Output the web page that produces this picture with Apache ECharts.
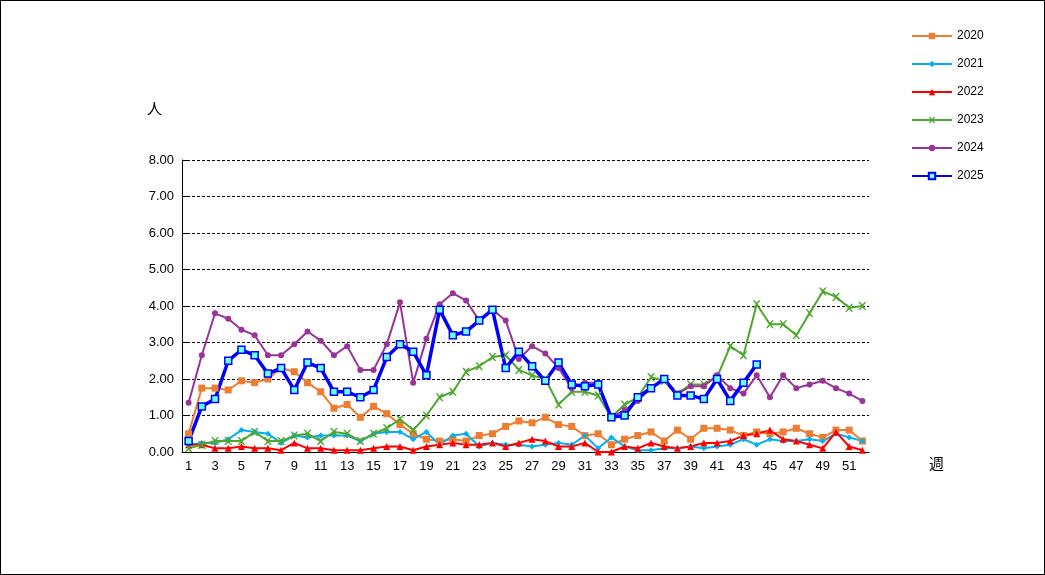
<!DOCTYPE html>
<html>
<head>
<meta charset="utf-8">
<script src="https://cdn.jsdelivr.net/npm/echarts@6/dist/echarts.min.js"></script>
<style>
  html, body { margin: 0; padding: 0; background: #fff; }
  #chart { width: 1043px; height: 573px; border: 1px solid #000; }
</style>
</head>
<body>
<div id="chart"></div>
<script>
// 週
const weeks = [];
for (let i = 1; i <= 52; i++) weeks.push(String(i));

const d2020 = [0.5, 1.75, 1.75, 1.7, 1.95, 1.9, 2.0, 2.3, 2.2, 1.9, 1.65, 1.2, 1.3, 0.95, 1.25, 1.05, 0.75, 0.5, 0.35, 0.3, 0.35, 0.3, 0.45, 0.5, 0.7, 0.85, 0.8, 0.95, 0.75, 0.7, 0.45, 0.5, 0.2, 0.35, 0.45, 0.55, 0.3, 0.6, 0.35, 0.65, 0.65, 0.6, 0.45, 0.55, 0.5, 0.55, 0.65, 0.5, 0.4, 0.6, 0.6, 0.3];
const d2021 = [0.2, 0.25, 0.25, 0.35, 0.6, 0.55, 0.5, 0.25, 0.45, 0.4, 0.45, 0.45, 0.45, 0.3, 0.5, 0.55, 0.55, 0.35, 0.55, 0.2, 0.45, 0.5, 0.15, 0.25, 0.2, 0.2, 0.15, 0.2, 0.25, 0.2, 0.45, 0.1, 0.4, 0.15, 0.05, 0.05, 0.1, 0.1, 0.15, 0.1, 0.15, 0.2, 0.35, 0.2, 0.35, 0.3, 0.3, 0.35, 0.3, 0.5, 0.4, 0.3];
const d2022 = [0.2, 0.2, 0.1, 0.1, 0.15, 0.1, 0.1, 0.05, 0.25, 0.1, 0.1, 0.05, 0.05, 0.05, 0.1, 0.15, 0.15, 0.05, 0.15, 0.2, 0.25, 0.2, 0.2, 0.25, 0.15, 0.25, 0.35, 0.3, 0.15, 0.15, 0.25, 0.0, 0.0, 0.15, 0.1, 0.25, 0.15, 0.1, 0.15, 0.25, 0.25, 0.3, 0.45, 0.5, 0.6, 0.35, 0.3, 0.2, 0.1, 0.55, 0.15, 0.05];
const d2023 = [0.1, 0.2, 0.3, 0.3, 0.3, 0.55, 0.3, 0.3, 0.45, 0.5, 0.3, 0.55, 0.5, 0.3, 0.5, 0.65, 0.9, 0.6, 1.0, 1.5, 1.65, 2.2, 2.35, 2.6, 2.65, 2.25, 2.1, 2.0, 1.3, 1.65, 1.65, 1.55, 0.95, 1.3, 1.5, 2.05, 1.95, 1.6, 1.85, 1.85, 2.05, 2.9, 2.65, 4.05, 3.5, 3.5, 3.2, 3.8, 4.4, 4.25, 3.95, 4.0];
const d2024 = [1.35, 2.65, 3.8, 3.65, 3.35, 3.2, 2.65, 2.65, 2.95, 3.3, 3.05, 2.65, 2.9, 2.25, 2.25, 2.95, 4.1, 1.9, 3.1, 4.05, 4.35, 4.15, 3.6, 3.9, 3.6, 2.55, 2.9, 2.7, 2.3, 1.75, 1.9, 1.9, 0.95, 1.15, 1.4, 1.75, 2.0, 1.6, 1.8, 1.8, 2.1, 1.75, 1.6, 2.1, 1.5, 2.1, 1.75, 1.85, 1.95, 1.75, 1.6, 1.4];
const d2025 = [0.3, 1.25, 1.45, 2.5, 2.8, 2.65, 2.15, 2.3, 1.7, 2.45, 2.3, 1.65, 1.65, 1.5, 1.7, 2.6, 2.95, 2.75, 2.1, 3.9, 3.2, 3.3, 3.6, 3.9, 2.3, 2.75, 2.35, 1.95, 2.45, 1.85, 1.8, 1.85, 0.95, 1.0, 1.5, 1.75, 2.0, 1.55, 1.55, 1.45, 2.0, 1.4, 1.9, 2.4];

const xMark = 'path://M0,0L2,0L5,3L8,0L10,0L6,5L10,10L8,10L5,7L2,10L0,10L4,5Z';

function line(name, data, color, symbol, size, width, fill) {
	return {
		name: name,
		type: 'line',
		data: data,
		symbol: symbol,
		symbolSize: size,
		showSymbol: true,
		lineStyle: { color: color, width: width },
		itemStyle: { color: fill || color, borderColor: color, borderWidth: fill ? 1.5 : 0 },
		animation: false
	};
}

const chart = echarts.init(document.getElementById('chart'));
chart.setOption({
	textStyle: { fontFamily: 'Liberation Sans, sans-serif' },
	grid: { left: 181, top: 159, right: 175, bottom: 122 },
	legend: {
		orient: 'vertical',
		left: 905,
		top: 24,
		itemGap: 16,
		itemWidth: 40,
		itemHeight: 8,
		textStyle: { fontSize: 12, color: '#000' },
		data: ['2020', '2021', '2022', '2023', '2024', '2025']
	},
	graphic: [
		{ type: 'text', left: 146, top: 100, style: { text: '人', fontSize: 15, fill: '#000', fontFamily: 'Noto Sans CJK JP' } },
		{ type: 'text', left: 928, top: 455, style: { text: '週', fontSize: 15, fill: '#000', fontFamily: 'Noto Sans CJK JP' } }
	],
	xAxis: {
		type: 'category',
		data: weeks,
		boundaryGap: true,
		axisLine: { lineStyle: { color: '#000' } },
		axisTick: { interval: 0, lineStyle: { color: '#000' } },
		axisLabel: { interval: 1, color: '#000', fontSize: 13, margin: 8 }
	},
	yAxis: {
		type: 'value',
		min: 0,
		max: 8,
		interval: 1,
		axisLine: { show: true, lineStyle: { color: '#000' } },
		axisTick: { show: true, inside: true, lineStyle: { color: '#000' } },
		axisLabel: { color: '#000', fontSize: 13, formatter: v => v.toFixed(2) },
		splitLine: { lineStyle: { color: '#000', type: [3, 2] } }
	},
	series: [
		line('2020', d2020, '#ED7D31', 'rect', 7, 2),
		line('2021', d2021, '#00B0F0', 'diamond', 6, 2),
		line('2022', d2022, '#FF0000', 'triangle', 7, 2),
		line('2023', d2023, '#4EA72E', xMark, 8, 2),
		line('2024', d2024, '#993399', 'circle', 6, 2),
		line('2025', d2025, '#0000FF', 'rect', 7, 3.5, '#66FFFF')
	]
});
</script>
</body>
</html>
